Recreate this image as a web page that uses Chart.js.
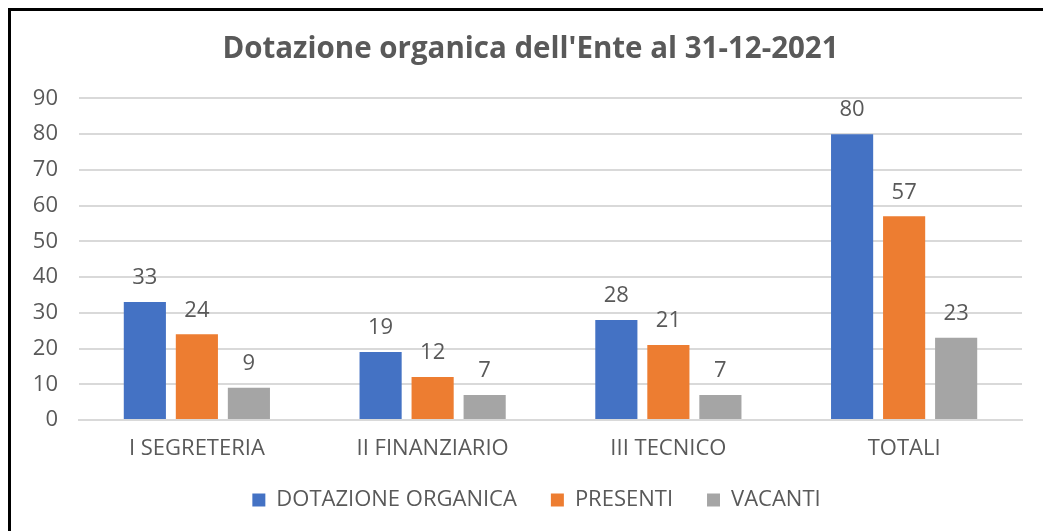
<!DOCTYPE html>
<html>
<head>
<meta charset="utf-8">
<script src="https://cdn.jsdelivr.net/npm/chart.js@4"></script>
<style>
  html, body { margin: 0; padding: 0; background: #fff; }
  #frame {
    position: absolute; left: 8px; top: 8px;
    width: 1035px; height: 523px;
    border-left: 3px solid #000; border-top: 3px solid #000;
    box-sizing: border-box;
  }
  #wrap { position: relative; width: 1032px; height: 520px; }
</style>
</head>
<body>
<div id="frame"><div id="wrap"><canvas id="chart"></canvas></div></div>
<script>
// dati
var categories = ["I SEGRETERIA", "II FINANZIARIO", "III TECNICO", "TOTALI"];
var dotazione = [33, 19, 28, 80];
var presenti = [24, 12, 21, 57];
var vacanti = [9, 7, 7, 23];
var yTicks = [0, 10, 20, 30, 40, 50, 60, 70, 80, 90];

var textColor = "#595959";
var fontFamily = "'Open Sans', 'Noto Sans', sans-serif";

// etichette valori sopra le barre
var valueLabels = {
  id: "valueLabels",
  afterDatasetsDraw: function(chart) {
    var ctx = chart.ctx;
    ctx.save();
    ctx.fillStyle = textColor;
    ctx.font = "22px " + fontFamily;
    ctx.textAlign = "center";
    ctx.textBaseline = "middle";
    chart.data.datasets.forEach(function(ds, i) {
      chart.getDatasetMeta(i).data.forEach(function(bar, j) {
        ctx.fillText(ds.data[j], bar.x, bar.y - 24);
      });
    });
    ctx.restore();
  }
};

// sposta titolo e legenda dopo il layout
var nudge = {
  id: "nudge",
  afterLayout: function(chart) {
    chart.titleBlock.left += 9;
    chart.titleBlock.right += 9;
    chart.legend.top -= 7;
    chart.legend.bottom -= 7;
    chart.legend.left += 15;
    chart.legend.right += 15;
  }
};

var ctx = document.getElementById("chart").getContext("2d");
var chart = new Chart(ctx, {
  type: "bar",
  data: {
    labels: categories,
    datasets: [
      { label: "DOTAZIONE ORGANICA", data: dotazione, backgroundColor: "#4472C4" },
      { label: "PRESENTI", data: presenti, backgroundColor: "#ED7D31" },
      { label: "VACANTI", data: vacanti, backgroundColor: "#A5A5A5" }
    ]
  },
  options: {
    responsive: true,
    maintainAspectRatio: false,
    animation: false,
    categoryPercentage: 0.662,
    barPercentage: 0.81,
    layout: { padding: { left: 10, right: 21, top: 21, bottom: 9 } },
    plugins: {
      title: {
        display: true,
        text: "Dotazione organica dell'Ente al 31-12-2021",
        color: textColor,
        font: { family: fontFamily, size: 29.5, weight: "bold" },
        padding: { top: 0, bottom: 31 }
      },
      legend: {
        position: "bottom",
        maxHeight: 60,
        labels: {
          color: textColor,
          font: { family: fontFamily, size: 22 },
          boxWidth: 13,
          boxHeight: 13,
          padding: 34
        }
      },
      tooltip: { enabled: false }
    },
    scales: {
      x: {
        grid: { display: false },
        border: { color: "#d9d9d9", width: 2 },
        ticks: { color: textColor, font: { family: fontFamily, size: 22 }, padding: 8 },
        afterFit: function(axis) { axis.height = 42; }
      },
      y: {
        min: 0,
        max: 90,
        afterBuildTicks: function(axis) {
          axis.ticks = yTicks.map(function(v) { return { value: v }; });
        },
        grid: { color: "#d9d9d9", lineWidth: 2, drawTicks: false },
        border: { display: false },
        ticks: { color: textColor, font: { family: fontFamily, size: 22 }, padding: 21 },
        afterFit: function(axis) { axis.width = 58; }
      }
    }
  },
  plugins: [valueLabels, nudge]
});
</script>
</body>
</html>
